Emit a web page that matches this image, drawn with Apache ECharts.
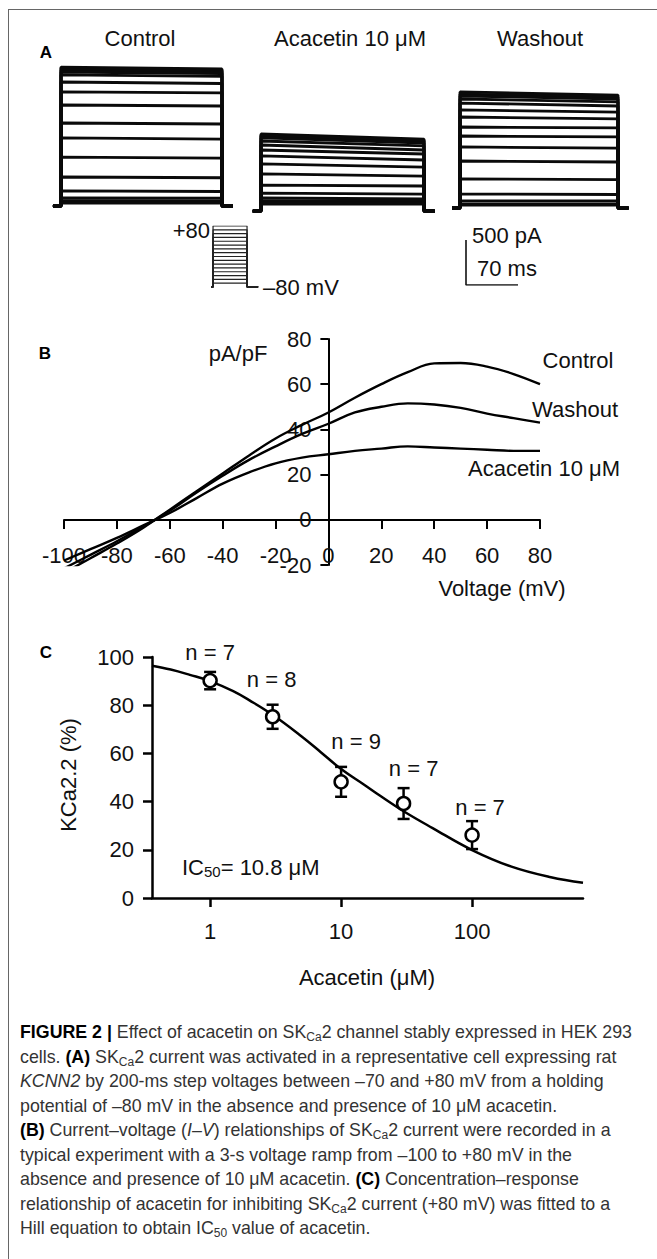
<!DOCTYPE html>
<html><head><meta charset="utf-8">
<script src="https://cdn.jsdelivr.net/npm/echarts@6/dist/echarts.min.js"></script>
<style>html,body{margin:0;padding:0;background:#fff}#c{width:657px;height:1259px}</style>
</head><body><div id="c"></div>
<script>
// ---------- Panel A : step currents (pA) ----------
const stepVoltages = [80,70,60,50,40,30,20,10,0,-10,-20,-30,-40,-50,-60,-70];
const stepTimes = [-10, 0, 200, 213];           // ms
const controlStart  = [1544,1533,1511,1489,1456,1378,1267,1122,922,756,544,322,167,89,56,33];
const controlEnd    = [1522,1511,1494,1472,1440,1361,1256,1111,911,744,533,314,161,86,54,33];
const controlHold   = 0;
const acacetinStart = [800,789,778,756,722,678,622,556,467,356,233,144,89,56,33,22];
const acacetinEnd   = [744,733,722,700,667,622,578,511,433,333,222,133,78,56,33,22];
const acacetinHold  = -56;
const washoutStart  = [1267,1244,1222,1189,1144,1067,989,878,778,656,500,300,133,56,22,11];
const washoutEnd    = [1233,1211,1189,1156,1111,1044,967,867,767,644,489,294,128,56,22,11];
const washoutHold   = -22;
const protocolTimes = [-12, 0, 200, 265];        // ms
const protocolHold  = -80;                       // mV
const scaleBarCurrent = 500;                     // pA
const scaleBarTime    = 70;                      // ms

// ---------- Panel B : I-V ramp ----------
const ivVoltage  = [-100,-90,-80,-70,-60,-50,-40,-30,-20,-10,0,10,20,30,40,50,60,70,80];
const ivControl  = [-23.5,-17,-10.5,-3.5,4.5,12.5,20.5,28.5,36,42,47.5,54,60,65.3,69.2,69.4,67.8,64.5,60];
const ivWashout  = [-21.5,-15.5,-9.5,-3,4,12,19.5,26.5,32.5,38,42.5,47.5,50,51.5,51,49.5,47,45,43];
const ivAcacetin = [-18,-13,-8,-2.5,3,9.5,16,21,25,27.5,29,30.5,31.5,32.5,32,31.5,31,30.5,30.5];

// ---------- Panel C : concentration-response ----------
const conc        = [1,3,10,30,100];
const inhibition  = [90.2,75.2,48.2,39.2,26.1];
const sem         = [3.6,5,6.2,6.4,5.8];
const nCells      = [7,8,9,7,7];
const fitConc     = [0.36,0.5,0.7,1,1.5,2,3,5,7,10,15,20,30,50,100,200,400,703];
const fitPct      = [96.4,94.8,92.6,90,85.8,82,76,67,60.5,53.5,47,42.3,36,29,19.9,13,8.6,6.3];
const cXTicks     = [1,10,100];

// ---------- layout (pixels) ----------
const FONT = '"Liberation Sans", Arial, sans-serif';
const nLabelOffsets = [[0,-28],[-1,-37],[15,-40],[10,-35],[8,-28]];

const chart = echarts.init(document.getElementById('c'), null, {renderer:'svg'});

const grids = [], xAxes = [], yAxes = [], series = [];
function addGrid(g, xa, ya){
  grids.push(g);
  xa.gridIndex = grids.length-1; ya.gridIndex = grids.length-1;
  xAxes.push(xa); yAxes.push(ya);
  return grids.length-1;
}
const hidden = {show:false};
function hiddenAxis(min,max,type){
  return {type:type||'value',min,max,axisLine:hidden,axisTick:hidden,axisLabel:hidden,splitLine:hidden};
}

// Panel A grids: geometry per condition [x of step onset, px per ms]
const aGeom = [[61,0.805],[261,0.815],[460,0.79]];
const aSets = [[controlStart,controlEnd,controlHold],[acacetinStart,acacetinEnd,acacetinHold],[washoutStart,washoutEnd,washoutHold]];
aGeom.forEach((g,k)=>{
  const gi = addGrid({left:g[0]-10*g[1], top:53, width:225*g[1], height:162},
                     hiddenAxis(-10,215), hiddenAxis(-100,1700));
  const [st,en,h] = aSets[k];
  stepVoltages.forEach((v,i)=>{
    series.push({type:'line', xAxisIndex:gi, yAxisIndex:gi, symbol:'none', silent:true,
      lineStyle:{color:'#0a0a0a', width:2.8},
      data:[[stepTimes[0],h],[stepTimes[1],h],[stepTimes[1],st[i]],[stepTimes[2],en[i]],[stepTimes[2],h],[stepTimes[3],h]]});
  });
});
// protocol
const gp = addGrid({left:211, top:226, width:47.1, height:61}, hiddenAxis(-12,265), hiddenAxis(-80,80));
stepVoltages.forEach(v=>{
  series.push({type:'line', xAxisIndex:gp, yAxisIndex:gp, symbol:'none', silent:true,
    lineStyle:{color:'#222', width:1.2},
    data:[[protocolTimes[0],protocolHold],[protocolTimes[1],protocolHold],[protocolTimes[1],v],[protocolTimes[2],v],[protocolTimes[2],protocolHold],[protocolTimes[3],protocolHold]]});
});
// scale bar
const gs = addGrid({left:466, top:240, width:52, height:45}, hiddenAxis(0,scaleBarTime), hiddenAxis(0,scaleBarCurrent));
series.push({type:'line', xAxisIndex:gs, yAxisIndex:gs, symbol:'none', silent:true,
  lineStyle:{color:'#111', width:1.6},
  data:[[0,scaleBarCurrent],[0,0],[scaleBarTime,0]]});

// Panel B  (axes cross at 0,0: offset the axes from the grid edges)
const axStyle = {onZero:false, lineStyle:{color:'#000', width:2}};
const gb = addGrid({left:64, top:339, width:476, height:226},
  {type:'value', min:-100, max:80, interval:20, position:'bottom', offset:-45, axisLine:axStyle,
   axisTick:{length:9, lineStyle:{color:'#000', width:2}},
   axisLabel:{fontSize:22, color:'#111', fontFamily:FONT, margin:24},
   splitLine:hidden},
  {type:'value', min:-20, max:80, interval:20, position:'left', offset:-264.4, axisLine:axStyle,
   axisTick:{length:8, lineStyle:{color:'#000', width:2}},
   axisLabel:{fontSize:22, color:'#111', fontFamily:FONT, margin:17},
   splitLine:hidden});
[ivControl, ivWashout, ivAcacetin].forEach(arr=>{
  series.push({type:'line', xAxisIndex:gb, yAxisIndex:gb, symbol:'none', smooth:0.4, silent:true,
    lineStyle:{color:'#000', width:2.4},
    data: ivVoltage.map((v,i)=>[v, arr[i]])});
});

// Panel C
const gc = addGrid({left:152, top:657, width:431, height:241},
  {type:'log', logBase:10, min:0.36, max:703,
   axisLine:{lineStyle:{color:'#000', width:2.5}},
   axisTick:{length:9, customValues:cXTicks, lineStyle:{color:'#000', width:2.5}},
   axisLabel:{customValues:cXTicks, fontSize:22, color:'#111', fontFamily:FONT, margin:22},
   minorTick:hidden, splitLine:hidden},
  {type:'value', min:0, max:100, interval:20,
   axisLine:{lineStyle:{color:'#000', width:2.5}},
   axisTick:{length:9, lineStyle:{color:'#000', width:2.5}},
   axisLabel:{fontSize:22, color:'#111', fontFamily:FONT, margin:18},
   splitLine:hidden});
series.push({type:'custom', xAxisIndex:gc, yAxisIndex:gc, silent:true,
  data: conc.map((c,i)=>[c, inhibition[i]-sem[i], inhibition[i]+sem[i]]),
  encode:{x:0, y:[1,2]},
  renderItem:(params, api)=>{
    const lo = api.coord([api.value(0), api.value(1)]);
    const hi = api.coord([api.value(0), api.value(2)]);
    const w = 6, st = {stroke:'#000', lineWidth:2.5};
    return {type:'group', children:[
      {type:'line', shape:{x1:lo[0],y1:lo[1],x2:hi[0],y2:hi[1]}, style:st},
      {type:'line', shape:{x1:lo[0]-w,y1:lo[1],x2:lo[0]+w,y2:lo[1]}, style:st},
      {type:'line', shape:{x1:hi[0]-w,y1:hi[1],x2:hi[0]+w,y2:hi[1]}, style:st}
    ]};
  }});
series.push({type:'line', xAxisIndex:gc, yAxisIndex:gc, symbol:'none', smooth:0.4, silent:true,
  lineStyle:{color:'#000', width:2.5},
  data: fitConc.map((c,i)=>[c, fitPct[i]])});
series.push({type:'scatter', xAxisIndex:gc, yAxisIndex:gc, symbol:'circle', symbolSize:13, silent:true,
  itemStyle:{color:'#fff', borderColor:'#000', borderWidth:2.5, opacity:1},
  data: conc.map((c,i)=>({value:[c, inhibition[i]],
    label:{show:true, position:'inside', offset:nLabelOffsets[i], formatter:'n = '+nCells[i],
           fontSize:22, color:'#111', fontFamily:FONT}})),
  z:5});

// ---------- text ----------
function txt(x,y,text,opt){
  return Object.assign({type:'text', x, y, silent:true,
    style:Object.assign({text, fontSize:22, fontFamily:FONT, fill:'#111', align:'left', verticalAlign:'middle'}, opt||{})});
}
const graphics = [
  {type:'line', shape:{x1:8,y1:9.5,x2:657,y2:9.5}, style:{stroke:'#666', lineWidth:1}, silent:true},
  {type:'line', shape:{x1:8.5,y1:9,x2:8.5,y2:1259}, style:{stroke:'#666', lineWidth:1}, silent:true},
  txt(46,52,'A',{fontWeight:'bold', fontSize:17, align:'center', fill:'#000'}),
  txt(140,38,'Control',{align:'center'}),
  txt(350,38,'Acacetin 10 μM',{align:'center'}),
  txt(540,38,'Washout',{align:'center'}),
  txt(210,230,'+80',{align:'right'}),
  txt(263,287,'–80 mV'),
  txt(472,235,'500 pA'),
  txt(477,268,'70 ms'),
  txt(45,353,'B',{fontWeight:'bold', fontSize:17, align:'center', fill:'#000'}),
  txt(238,353,'pA/pF',{align:'center'}),
  txt(578,360,'Control',{align:'center'}),
  txt(575,409,'Washout',{align:'center'}),
  txt(544,468,'Acacetin 10 μM',{align:'center'}),
  txt(502,588,'Voltage (mV)',{align:'center'}),
  txt(46,652,'C',{fontWeight:'bold', fontSize:17, align:'center', fill:'#000'}),
  Object.assign(txt(68,775,'KCa2.2 (%)',{align:'center'}), {rotation:Math.PI/2}),
  txt(367,977,'Acacetin (μM)',{align:'center'}),
  txt(182,867,'IC{s|50}= 10.8 μM',{lineHeight:24,
     rich:{s:{fontSize:15, lineHeight:12, verticalAlign:'bottom', fontFamily:FONT, fill:'#111'}}})
];
const captionLines = [
 '{b|FIGURE 2 |} Effect of acacetin on SK{s|Ca}2 channel stably expressed in HEK 293',
 'cells. {b|(A)} SK{s|Ca}2 current was activated in a representative cell expressing rat',
 '{i|KCNN2} by 200-ms step voltages between –70 and +80 mV from a holding',
 'potential of –80 mV in the absence and presence of 10 μM acacetin.',
 '{b|(B)} Current–voltage ({i|I–V}) relationships of SK{s|Ca}2 current were recorded in a',
 'typical experiment with a 3-s voltage ramp from –100 to +80 mV in the',
 'absence and presence of 10 μM acacetin. {b|(C)} Concentration–response',
 'relationship of acacetin for inhibiting SK{s|Ca}2 current (+80 mV) was fitted to a',
 'Hill equation to obtain IC{s|50} value of acacetin.'
];
const CAP = 17.8;
const capRich = {
  b:{fontWeight:'bold', fill:'#000', fontSize:CAP, fontFamily:FONT, lineHeight:22},
  i:{fontStyle:'italic', fill:'#333', fontSize:CAP, fontFamily:FONT, lineHeight:22},
  s:{fill:'#333', fontSize:12, fontFamily:FONT, lineHeight:11, verticalAlign:'bottom'}
};
captionLines.forEach((l,i)=>{
  graphics.push(txt(20, 1032 + i*24.5, l, {fontSize:CAP, fill:'#333', lineHeight:22, rich:capRich}));
});

chart.setOption({
  animation:false,
  grid:grids, xAxis:xAxes, yAxis:yAxes, series,
  graphic:{elements:graphics}
});
</script></body></html>
